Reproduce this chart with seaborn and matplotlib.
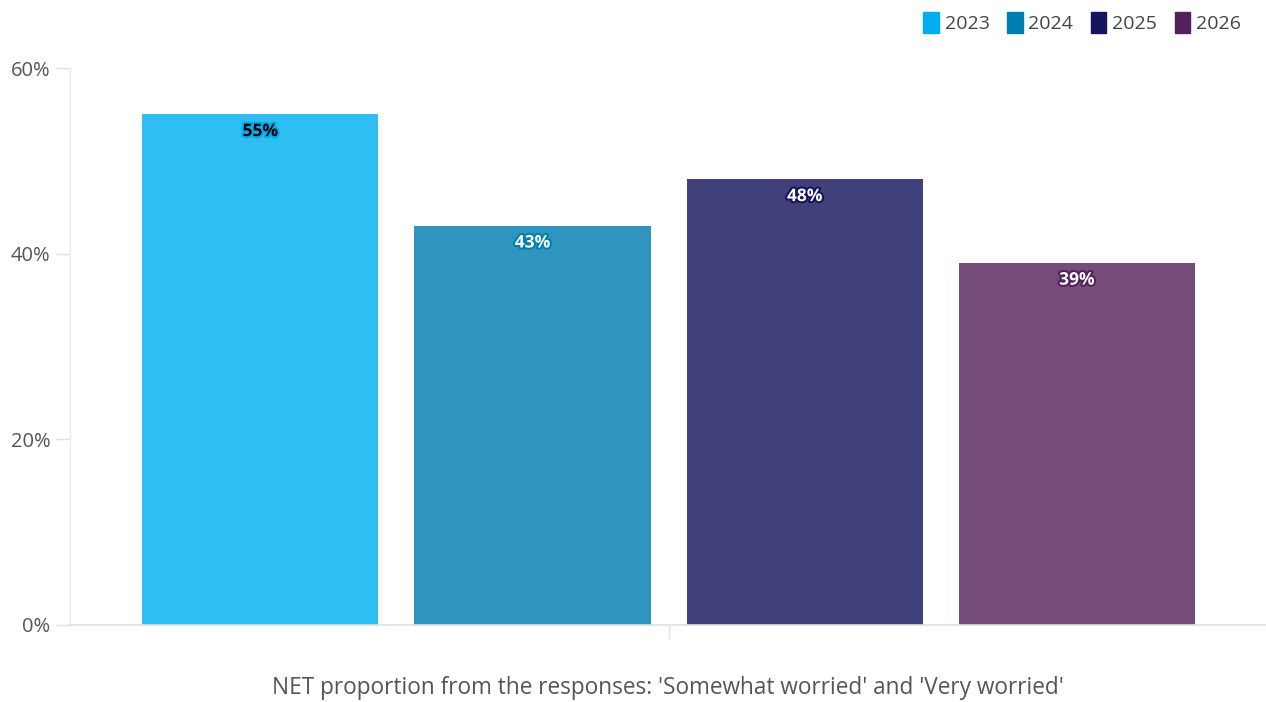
import matplotlib
matplotlib.use("Agg")
import matplotlib.pyplot as plt
import matplotlib.patheffects as pe
from matplotlib.patches import Patch
import seaborn as sns
import pandas as pd

years = ["2023", "2024", "2025", "2026"]
values = [55, 43, 48, 39]
bar_colors = ["#2FBEF2", "#2F95BF", "#40407A", "#754C7A"]
legend_colors = ["#00AEEF", "#0080B0", "#14145F", "#52205A"]
label_text_colors = ["#000000", "#FFFFFF", "#FFFFFF", "#FFFFFF"]
label_outline_colors = ["#00AEEF", "#0080B0", "#14145F", "#52205A"]
yticks = [0, 20, 40, 60]
xlabel = "NET proportion from the responses: 'Somewhat worried' and 'Very worried'"

sns.set_theme(style="white")
plt.rcParams["font.family"] = ["Open Sans", "DejaVu Sans"]

df = pd.DataFrame({"year": years, "value": values})

fig = plt.figure(figsize=(12.66, 7.02), dpi=100)
ax = fig.add_axes([0.0553, 0.1097, 0.9447, 0.7934])

sns.barplot(data=df, x="year", y="value", hue="year", palette=bar_colors,
            width=0.868, legend=False, ax=ax, saturation=1, linewidth=0)

ax.set_xlim(-0.699, 3.695)
ax.set_ylim(0, 60)
ax.set_yticks(yticks)
ax.set_yticklabels([f"{t}%" for t in yticks], fontsize=14.5, color="#555555")
ax.tick_params(axis="y", length=10, color="#E0E0E0", width=1, pad=4, left=True)
ax.set_xticks([1.5])
ax.set_xticklabels([""])
ax.tick_params(axis="x", length=10, color="#E0E0E0", width=1, bottom=True)

for s in ["top", "right"]:
    ax.spines[s].set_visible(False)
ax.spines["left"].set_color("#EBEBEB")
ax.spines["bottom"].set_color("#E0E0E0")
ax.spines["left"].set_linewidth(1)
ax.spines["bottom"].set_linewidth(1.2)
ax.grid(False)

for i, v in enumerate(values):
    ax.annotate(f"{v}%", xy=(i, v), xytext=(0, -12), textcoords="offset points",
                ha="center", va="center", fontsize=12.5, fontweight="bold",
                color=label_text_colors[i],
                path_effects=[pe.withStroke(linewidth=3, foreground=label_outline_colors[i])])

ax.set_xlabel("")
ax.set_ylabel("")
fig.text(668 / 1266, 1 - 688 / 702, xlabel, ha="center", va="center",
         fontsize=16.3, color="#555555")

handles = [Patch(facecolor=c, edgecolor=c, label=y) for c, y in zip(legend_colors, years)]
fig.legend(handles=handles, loc="upper right", bbox_to_anchor=(0.994, 1.008), ncol=4,
           frameon=False, fontsize=14, handlelength=0.8, handleheight=1.3,
           handletextpad=0.3, columnspacing=0.9, labelcolor="#444444")

fig.savefig("out.png", dpi=100)
